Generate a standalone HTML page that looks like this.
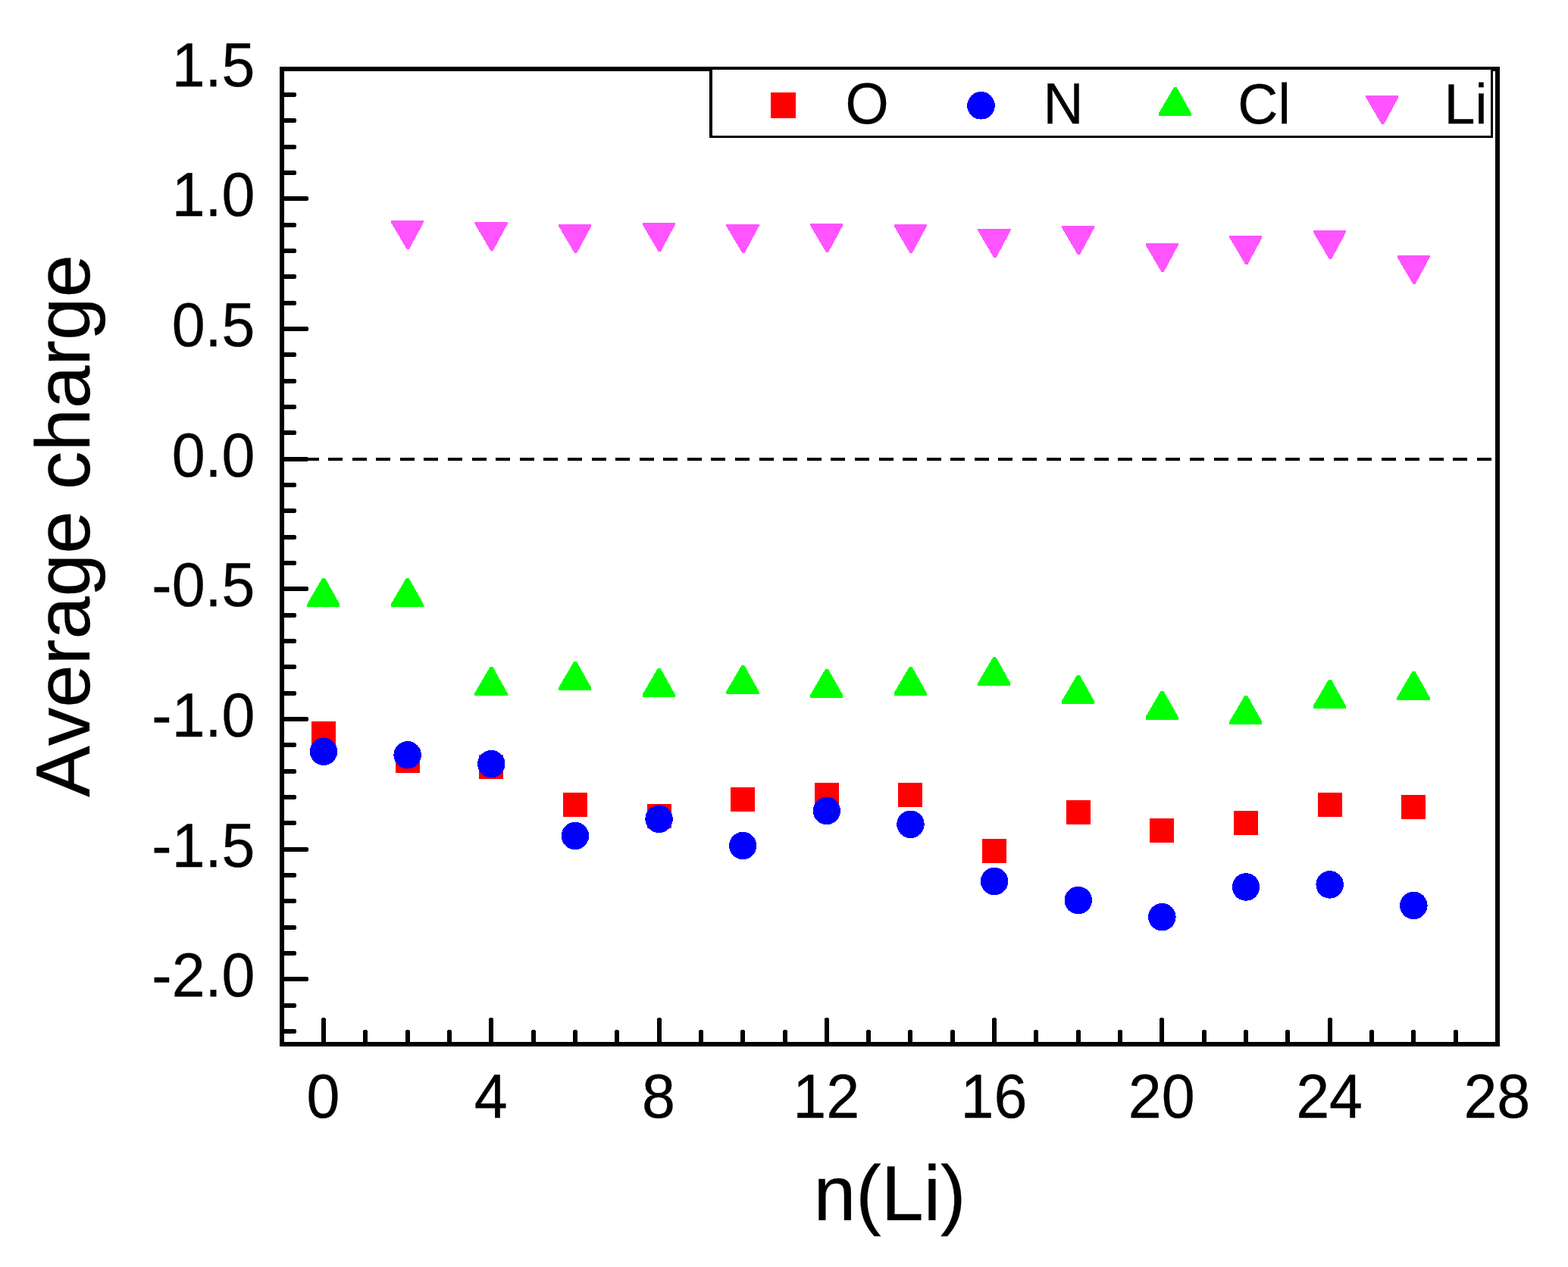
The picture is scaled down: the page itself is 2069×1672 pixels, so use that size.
<!DOCTYPE html>
<html lang="en"><head><meta charset="utf-8"><title>Average charge vs n(Li)</title>
<style>
html,body{margin:0;padding:0;background:#fff;}
body{width:2069px;height:1672px;overflow:hidden;}
svg{display:block;}
text{font-family:"Liberation Sans",Arial,Helvetica,sans-serif;fill:#000;stroke:#000;stroke-width:0.3px;stroke-linejoin:miter;font-kerning:none;text-rendering:geometricPrecision;}
rect,line,polygon,circle{shape-rendering:crispEdges;}
.tk{font-size:79px;}
.ttl{font-size:100.5px;}
.lg{font-size:73.5px;}
</style></head><body>
<svg width="2069" height="1672" viewBox="0 0 2069 1672">
<rect x="0" y="0" width="2069" height="1672" fill="#fff"/>
<g id="zero-line" fill="#000">
<rect x="370" y="604" width="19" height="4.3"/>
<rect x="401.58" y="604" width="19" height="4.3"/>
<rect x="433.16" y="604" width="19" height="4.3"/>
<rect x="464.74" y="604" width="19" height="4.3"/>
<rect x="496.32" y="604" width="19" height="4.3"/>
<rect x="527.9" y="604" width="19" height="4.3"/>
<rect x="559.48" y="604" width="19" height="4.3"/>
<rect x="591.06" y="604" width="19" height="4.3"/>
<rect x="622.64" y="604" width="19" height="4.3"/>
<rect x="654.22" y="604" width="19" height="4.3"/>
<rect x="685.8" y="604" width="19" height="4.3"/>
<rect x="717.38" y="604" width="19" height="4.3"/>
<rect x="748.96" y="604" width="19" height="4.3"/>
<rect x="780.54" y="604" width="19" height="4.3"/>
<rect x="812.12" y="604" width="19" height="4.3"/>
<rect x="843.7" y="604" width="19" height="4.3"/>
<rect x="875.28" y="604" width="19" height="4.3"/>
<rect x="906.86" y="604" width="19" height="4.3"/>
<rect x="938.44" y="604" width="19" height="4.3"/>
<rect x="970.02" y="604" width="19" height="4.3"/>
<rect x="1001.6" y="604" width="19" height="4.3"/>
<rect x="1033.18" y="604" width="19" height="4.3"/>
<rect x="1064.76" y="604" width="19" height="4.3"/>
<rect x="1096.34" y="604" width="19" height="4.3"/>
<rect x="1127.92" y="604" width="19" height="4.3"/>
<rect x="1159.5" y="604" width="19" height="4.3"/>
<rect x="1191.08" y="604" width="19" height="4.3"/>
<rect x="1222.66" y="604" width="19" height="4.3"/>
<rect x="1254.24" y="604" width="19" height="4.3"/>
<rect x="1285.82" y="604" width="19" height="4.3"/>
<rect x="1317.4" y="604" width="19" height="4.3"/>
<rect x="1348.98" y="604" width="19" height="4.3"/>
<rect x="1380.56" y="604" width="19" height="4.3"/>
<rect x="1412.14" y="604" width="19" height="4.3"/>
<rect x="1443.72" y="604" width="19" height="4.3"/>
<rect x="1475.3" y="604" width="19" height="4.3"/>
<rect x="1506.88" y="604" width="19" height="4.3"/>
<rect x="1538.46" y="604" width="19" height="4.3"/>
<rect x="1570.04" y="604" width="19" height="4.3"/>
<rect x="1601.62" y="604" width="19" height="4.3"/>
<rect x="1633.2" y="604" width="19" height="4.3"/>
<rect x="1664.78" y="604" width="19" height="4.3"/>
<rect x="1696.36" y="604" width="19" height="4.3"/>
<rect x="1727.94" y="604" width="19" height="4.3"/>
<rect x="1759.52" y="604" width="19" height="4.3"/>
<rect x="1791.1" y="604" width="19" height="4.3"/>
<rect x="1822.68" y="604" width="19" height="4.3"/>
<rect x="1854.26" y="604" width="19" height="4.3"/>
<rect x="1885.84" y="604" width="19" height="4.3"/>
<rect x="1917.42" y="604" width="19" height="4.3"/>
<rect x="1949" y="604" width="19" height="4.3"/>
</g>
<g id="series-O">
<rect x="411" y="951.5" width="32" height="32" fill="#ff0000"/>
<rect x="521.64" y="988" width="32" height="32" fill="#ff0000"/>
<rect x="632.28" y="996" width="32" height="32" fill="#ff0000"/>
<rect x="742.92" y="1045.5" width="32" height="32" fill="#ff0000"/>
<rect x="853.56" y="1061" width="32" height="32" fill="#ff0000"/>
<rect x="964.2" y="1039" width="32" height="32" fill="#ff0000"/>
<rect x="1074.84" y="1033" width="32" height="32" fill="#ff0000"/>
<rect x="1185.48" y="1033" width="32" height="32" fill="#ff0000"/>
<rect x="1296.12" y="1107" width="32" height="32" fill="#ff0000"/>
<rect x="1406.76" y="1056" width="32" height="32" fill="#ff0000"/>
<rect x="1517.4" y="1080.4" width="32" height="32" fill="#ff0000"/>
<rect x="1628.04" y="1070" width="32" height="32" fill="#ff0000"/>
<rect x="1738.68" y="1045.5" width="32" height="32" fill="#ff0000"/>
<rect x="1849.32" y="1048.6" width="32" height="32" fill="#ff0000"/>
</g>
<g id="series-N">
<circle cx="427" cy="991.7" r="18.25" fill="#0000ff"/>
<circle cx="537.64" cy="996.3" r="18.25" fill="#0000ff"/>
<circle cx="648.28" cy="1008.2" r="18.25" fill="#0000ff"/>
<circle cx="758.92" cy="1103" r="18.25" fill="#0000ff"/>
<circle cx="869.56" cy="1080.8" r="18.25" fill="#0000ff"/>
<circle cx="980.2" cy="1116" r="18.25" fill="#0000ff"/>
<circle cx="1090.84" cy="1070" r="18.25" fill="#0000ff"/>
<circle cx="1201.48" cy="1087.8" r="18.25" fill="#0000ff"/>
<circle cx="1312.12" cy="1163" r="18.25" fill="#0000ff"/>
<circle cx="1422.76" cy="1188.1" r="18.25" fill="#0000ff"/>
<circle cx="1533.4" cy="1210.1" r="18.25" fill="#0000ff"/>
<circle cx="1644.04" cy="1170.5" r="18.25" fill="#0000ff"/>
<circle cx="1754.68" cy="1167.4" r="18.25" fill="#0000ff"/>
<circle cx="1865.32" cy="1194.9" r="18.25" fill="#0000ff"/>
</g>
<g id="series-Cl">
<polygon points="405.1,800.8 448.3,800.8 448.3,797.4 428.9,762.8 425.4,762.8 405.1,797.4" fill="#00ff00"/>
<polygon points="515.74,800.8 558.94,800.8 558.94,797.4 539.54,762.8 536.04,762.8 515.74,797.4" fill="#00ff00"/>
<polygon points="626.38,917.9 669.58,917.9 669.58,914.5 650.18,879.9 646.68,879.9 626.38,914.5" fill="#00ff00"/>
<polygon points="737.02,910.9 780.22,910.9 780.22,907.5 760.82,872.9 757.32,872.9 737.02,907.5" fill="#00ff00"/>
<polygon points="847.66,919.9 890.86,919.9 890.86,916.5 871.46,881.9 867.96,881.9 847.66,916.5" fill="#00ff00"/>
<polygon points="958.3,915.9 1001.5,915.9 1001.5,912.5 982.1,877.9 978.6,877.9 958.3,912.5" fill="#00ff00"/>
<polygon points="1068.94,920.7 1112.14,920.7 1112.14,917.3 1092.74,882.7 1089.24,882.7 1068.94,917.3" fill="#00ff00"/>
<polygon points="1179.58,917.9 1222.78,917.9 1222.78,914.5 1203.38,879.9 1199.88,879.9 1179.58,914.5" fill="#00ff00"/>
<polygon points="1290.22,904.9 1333.42,904.9 1333.42,901.5 1314.02,866.9 1310.52,866.9 1290.22,901.5" fill="#00ff00"/>
<polygon points="1400.86,928.7 1444.06,928.7 1444.06,925.3 1424.66,890.7 1421.16,890.7 1400.86,925.3" fill="#00ff00"/>
<polygon points="1511.5,949.6 1554.7,949.6 1554.7,946.2 1535.3,911.6 1531.8,911.6 1511.5,946.2" fill="#00ff00"/>
<polygon points="1622.14,955.9 1665.34,955.9 1665.34,952.5 1645.94,917.9 1642.44,917.9 1622.14,952.5" fill="#00ff00"/>
<polygon points="1732.78,934.8 1775.98,934.8 1775.98,931.4 1756.58,896.8 1753.08,896.8 1732.78,931.4" fill="#00ff00"/>
<polygon points="1843.42,923.7 1886.62,923.7 1886.62,920.3 1867.22,885.7 1863.72,885.7 1843.42,920.3" fill="#00ff00"/>
</g>
<g id="series-Li">
<polygon points="515.84,291 559.04,291 559.04,293.4 539.84,329 536.84,329 515.84,293.4" fill="#ff54ff"/>
<polygon points="626.48,293 669.68,293 669.68,295.4 650.48,331 647.48,331 626.48,295.4" fill="#ff54ff"/>
<polygon points="737.12,296 780.32,296 780.32,298.4 761.12,334 758.12,334 737.12,298.4" fill="#ff54ff"/>
<polygon points="847.76,294 890.96,294 890.96,296.4 871.76,332 868.76,332 847.76,296.4" fill="#ff54ff"/>
<polygon points="958.4,296 1001.6,296 1001.6,298.4 982.4,334 979.4,334 958.4,298.4" fill="#ff54ff"/>
<polygon points="1069.04,295 1112.24,295 1112.24,297.4 1093.04,333 1090.04,333 1069.04,297.4" fill="#ff54ff"/>
<polygon points="1179.68,296 1222.88,296 1222.88,298.4 1203.68,334 1200.68,334 1179.68,298.4" fill="#ff54ff"/>
<polygon points="1290.32,302 1333.52,302 1333.52,304.4 1314.32,340 1311.32,340 1290.32,304.4" fill="#ff54ff"/>
<polygon points="1400.96,298 1444.16,298 1444.16,300.4 1424.96,336 1421.96,336 1400.96,300.4" fill="#ff54ff"/>
<polygon points="1511.6,321 1554.8,321 1554.8,323.4 1535.6,359 1532.6,359 1511.6,323.4" fill="#ff54ff"/>
<polygon points="1622.24,311 1665.44,311 1665.44,313.4 1646.24,349 1643.24,349 1622.24,313.4" fill="#ff54ff"/>
<polygon points="1732.88,304 1776.08,304 1776.08,306.4 1756.88,342 1753.88,342 1732.88,306.4" fill="#ff54ff"/>
<polygon points="1843.52,337 1886.72,337 1886.72,339.4 1867.52,375 1864.52,375 1843.52,339.4" fill="#ff54ff"/>
</g>
<g id="ticks" stroke="#000" stroke-width="6" stroke-linecap="round" fill="none">
<line x1="372" y1="125" x2="388" y2="125"/>
<line x1="372" y1="159" x2="388" y2="159"/>
<line x1="372" y1="194" x2="388" y2="194"/>
<line x1="372" y1="228" x2="388" y2="228"/>
<line x1="372" y1="262" x2="404" y2="262"/>
<line x1="372" y1="297" x2="388" y2="297"/>
<line x1="372" y1="331" x2="388" y2="331"/>
<line x1="372" y1="365" x2="388" y2="365"/>
<line x1="372" y1="400" x2="388" y2="400"/>
<line x1="372" y1="434" x2="404" y2="434"/>
<line x1="372" y1="468" x2="388" y2="468"/>
<line x1="372" y1="503" x2="388" y2="503"/>
<line x1="372" y1="537" x2="388" y2="537"/>
<line x1="372" y1="571" x2="388" y2="571"/>
<line x1="372" y1="606" x2="404" y2="606"/>
<line x1="372" y1="640" x2="388" y2="640"/>
<line x1="372" y1="674" x2="388" y2="674"/>
<line x1="372" y1="709" x2="388" y2="709"/>
<line x1="372" y1="743" x2="388" y2="743"/>
<line x1="372" y1="777" x2="404" y2="777"/>
<line x1="372" y1="812" x2="388" y2="812"/>
<line x1="372" y1="846" x2="388" y2="846"/>
<line x1="372" y1="880" x2="388" y2="880"/>
<line x1="372" y1="915" x2="388" y2="915"/>
<line x1="372" y1="949" x2="404" y2="949"/>
<line x1="372" y1="983" x2="388" y2="983"/>
<line x1="372" y1="1018" x2="388" y2="1018"/>
<line x1="372" y1="1052" x2="388" y2="1052"/>
<line x1="372" y1="1086" x2="388" y2="1086"/>
<line x1="372" y1="1121" x2="404" y2="1121"/>
<line x1="372" y1="1155" x2="388" y2="1155"/>
<line x1="372" y1="1189" x2="388" y2="1189"/>
<line x1="372" y1="1224" x2="388" y2="1224"/>
<line x1="372" y1="1258" x2="388" y2="1258"/>
<line x1="372" y1="1292" x2="404" y2="1292"/>
<line x1="372" y1="1327" x2="388" y2="1327"/>
<line x1="372" y1="1361" x2="388" y2="1361"/>
<line x1="427" y1="1378" x2="427" y2="1346"/>
<line x1="482" y1="1378" x2="482" y2="1362"/>
<line x1="538" y1="1378" x2="538" y2="1362"/>
<line x1="593" y1="1378" x2="593" y2="1362"/>
<line x1="648" y1="1378" x2="648" y2="1346"/>
<line x1="704" y1="1378" x2="704" y2="1362"/>
<line x1="759" y1="1378" x2="759" y2="1362"/>
<line x1="814" y1="1378" x2="814" y2="1362"/>
<line x1="870" y1="1378" x2="870" y2="1346"/>
<line x1="925" y1="1378" x2="925" y2="1362"/>
<line x1="980" y1="1378" x2="980" y2="1362"/>
<line x1="1036" y1="1378" x2="1036" y2="1362"/>
<line x1="1091" y1="1378" x2="1091" y2="1346"/>
<line x1="1146" y1="1378" x2="1146" y2="1362"/>
<line x1="1201" y1="1378" x2="1201" y2="1362"/>
<line x1="1257" y1="1378" x2="1257" y2="1362"/>
<line x1="1312" y1="1378" x2="1312" y2="1346"/>
<line x1="1367" y1="1378" x2="1367" y2="1362"/>
<line x1="1423" y1="1378" x2="1423" y2="1362"/>
<line x1="1478" y1="1378" x2="1478" y2="1362"/>
<line x1="1533" y1="1378" x2="1533" y2="1346"/>
<line x1="1589" y1="1378" x2="1589" y2="1362"/>
<line x1="1644" y1="1378" x2="1644" y2="1362"/>
<line x1="1699" y1="1378" x2="1699" y2="1362"/>
<line x1="1755" y1="1378" x2="1755" y2="1346"/>
<line x1="1810" y1="1378" x2="1810" y2="1362"/>
<line x1="1865" y1="1378" x2="1865" y2="1362"/>
<line x1="1921" y1="1378" x2="1921" y2="1362"/>
</g>
<rect id="frame" x="372" y="91" width="1604" height="1287" fill="none" stroke="#000" stroke-width="6"/>
<g id="legend">
<rect x="937.75" y="89.75" width="1030.5" height="90.5" fill="#fff" stroke="#000" stroke-width="3.5"/>
<rect x="1017" y="122" width="33" height="33.6" fill="#ff0000"/>
<text class="lg" transform="translate(1115.4 163.2) scale(1 1.045)">O</text>
<circle cx="1294.5" cy="139.3" r="18.3" fill="#0000ff"/>
<text class="lg" transform="translate(1376.4 163.2) scale(1 1.045)">N</text>
<polygon points="1528.8,153 1572,153 1572,149.6 1552.6,115 1549.1,115 1528.8,149.6" fill="#00ff00"/>
<text class="lg" transform="translate(1633.3 163.2) scale(1 1.02)">Cl</text>
<polygon points="1802.1,126 1845.3,126 1845.3,128.4 1826.1,164 1823.1,164 1802.1,128.4" fill="#ff54ff"/>
<text class="lg" transform="translate(1905.4 163.2) scale(1 1.02)">Li</text>
</g>
<g id="ylabels" text-anchor="end">
<text class="tk" transform="translate(336.5 113.8) scale(1 1.04)">1.5</text>
<text class="tk" transform="translate(336.5 285.45) scale(1 1.04)">1.0</text>
<text class="tk" transform="translate(336.5 457.1) scale(1 1.04)">0.5</text>
<text class="tk" transform="translate(336.5 628.75) scale(1 1.04)">0.0</text>
<text class="tk" transform="translate(336.5 800.4) scale(1 1.04)">-0.5</text>
<text class="tk" transform="translate(336.5 972.05) scale(1 1.04)">-1.0</text>
<text class="tk" transform="translate(336.5 1143.7) scale(1 1.04)">-1.5</text>
<text class="tk" transform="translate(336.5 1315.35) scale(1 1.04)">-2.0</text>
</g>
<g id="xlabels" text-anchor="middle">
<text class="tk" transform="translate(426.4 1475) scale(1 1.04)">0</text>
<text class="tk" transform="translate(647.68 1475) scale(1 1.04)">4</text>
<text class="tk" transform="translate(868.96 1475) scale(1 1.04)">8</text>
<text class="tk" transform="translate(1090.24 1475) scale(1 1.04)">12</text>
<text class="tk" transform="translate(1311.52 1475) scale(1 1.04)">16</text>
<text class="tk" transform="translate(1532.8 1475) scale(1 1.04)">20</text>
<text class="tk" transform="translate(1754.08 1475) scale(1 1.04)">24</text>
<text class="tk" transform="translate(1975.36 1475) scale(1 1.04)">28</text>
</g>
<text class="ttl" text-anchor="middle" transform="translate(1174 1610) scale(1 1.02)">n(Li)</text>
<text class="ttl" style="font-size:101.4px" transform="translate(117.6 1052) rotate(-90)" x="0" y="0">Average charge</text>
</svg></body></html>
